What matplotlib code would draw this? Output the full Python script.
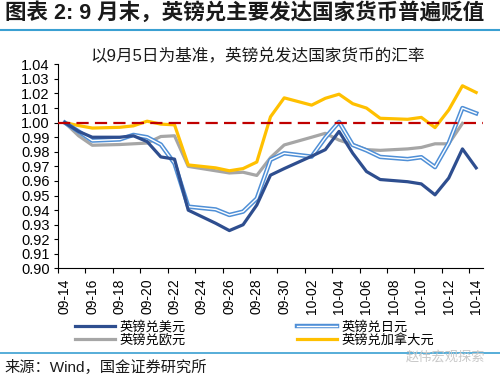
import numpy as np
import pandas as pd
import matplotlib
matplotlib.use("Agg")
import matplotlib.pyplot as plt
import matplotlib.patheffects as pe
from matplotlib.lines import Line2D

plt.rcParams['font.family'] = ['Liberation Sans', 'Noto Sans CJK SC']

# 汇率数据（以首日为 1）
dates = ['09-14', '09-15', '09-16', '09-18', '09-19', '09-20', '09-21', '09-22', '09-23',
         '09-25', '09-26', '09-27', '09-28', '09-29', '09-30', '10-02', '10-03', '10-04',
         '10-05', '10-06', '10-07', '10-09', '10-10', '10-11', '10-12', '10-13', '10-14']
usd = [1.000, 0.994, 0.990, 0.990, 0.991, 0.987, 0.9765, 0.975, 0.940, 0.931, 0.926, 0.930,
       0.9435, 0.964, 0.9685, 0.977, 0.9815, 0.994, 0.979, 0.9665, 0.961, 0.9595, 0.958,
       0.9505, 0.962, 0.982, 0.969]
jpy = [1.000, 0.994, 0.9877, 0.9885, 0.9916, 0.990, 0.985, 0.972, 0.9424, 0.9405, 0.9367,
       0.939, 0.948, 0.9745, 0.979, 0.9767, 0.9897, 1.0005, 0.9847, 0.981, 0.9765, 0.975,
       0.9763, 0.9695, 0.986, 1.010, 1.0064]
eur = [1.000, 0.991, 0.9845, 0.985, 0.9855, 0.986, 0.9905, 0.991, 0.970, 0.967, 0.9655,
       0.966, 0.9638, 0.976, 0.9847, 0.990, 0.9927, 0.988, 0.985, 0.9815, 0.981, 0.982,
       0.983, 0.9855, 0.9855, 0.9995, np.nan]
cad = [1.000, 0.998, 0.9963, 0.9968, 0.9978, 1.001, 0.999, 0.9985, 0.971, 0.969, 0.967,
       0.9685, 0.973, 1.004, 1.017, 1.012, 1.0167, 1.0195, 1.013, 1.010, 1.003, 1.0023,
       1.0036, 0.9966, 1.0087, 1.0253, 1.0207]

start = pd.Timestamp('2022-09-14')
x = np.array([(pd.Timestamp('2022-' + d) - start).days for d in dates])
label_days = pd.date_range('2022-09-14', '2022-10-14', freq='2D')
tick_labels = label_days.strftime('%m-%d')

fig = plt.figure(figsize=(5, 3.81), dpi=100)
ax = fig.add_axes([0.116, 0.2953, 0.85, 0.5359])

c_usd = '#2E4E8F'
c_jpy = '#4F8FD6'
c_eur = '#A6A6A6'
c_cad = '#FFC000'

ax.plot(x, eur, color=c_eur, lw=2.3, zorder=2)
ax.plot(x, cad, color=c_cad, lw=2.3, zorder=3)
jpy_fx = [pe.Stroke(linewidth=3.2, foreground=c_jpy), pe.Normal()]
ax.plot(x, jpy, color='white', lw=1.0, zorder=4, path_effects=jpy_fx)
ax.plot(x, usd, color=c_usd, lw=2.3, zorder=5)
ax.axhline(1.0, color='#C00000', lw=1.6, linestyle=(0, (5.5, 2.8)), zorder=6)

ax.set_xlim(-0.5, 30.5)
ax.set_ylim(0.90, 1.04)
ax.set_yticks(np.arange(0.90, 1.0401, 0.01))
ax.set_yticklabels(['%.2f' % v for v in np.arange(0.90, 1.0401, 0.01)], fontsize=10.5)
ax.set_xticks(np.arange(-0.5, 30, 2))
ax.set_xticklabels([])
ax.set_xticks(np.arange(0, 31, 2), minor=True)
ax.set_xticklabels(tick_labels, minor=True, rotation=90, fontsize=10)
ax.tick_params(axis='x', which='minor', length=0, pad=7)
ax.tick_params(axis='x', which='major', length=3.5, direction='out', width=0.8)
ax.tick_params(axis='y', length=3, direction='out', width=0.8, pad=3)
for s in ['top', 'right']:
    ax.spines[s].set_visible(False)
for s in ['left', 'bottom']:
    ax.spines[s].set_linewidth(0.8)

# 图例
handles = [Line2D([], [], color=c_usd, lw=2.3),
           Line2D([], [], color=c_eur, lw=2.3),
           Line2D([], [], color='white', lw=1.0, path_effects=jpy_fx),
           Line2D([], [], color=c_cad, lw=2.3)]
labels = ['英镑兑美元', '英镑兑欧元', '英镑兑日元', '英镑兑加拿大元']
fig.legend(handles, labels, loc='upper left', bbox_to_anchor=(0.15, 0.158), ncol=2,
           frameon=False, fontsize=9.5, handlelength=3.0, handletextpad=0.4,
           columnspacing=8.4, labelspacing=0.0, borderaxespad=0, borderpad=0)

# 标题和来源
fig.text(0.01, 0.967, '图表 2: 9 月末，英镑兑主要发达国家货币普遍贬值', fontsize=15.5,
         fontweight='bold', color='#1a1a1a', va='center', ha='left')
fig.add_artist(Line2D([0, 1], [0.921, 0.921], color='#3AA0D2', lw=1.5))
fig.text(0.516, 0.853, '以9月5日为基准，英镑兑发达国家货币的汇率', fontsize=12,
         color='#1a1a1a', va='center', ha='center')
fig.add_artist(Line2D([0, 1], [0.0743, 0.0743], color='#3AA0D2', lw=1.2))
fig.text(0.008, 0.035, '来源：Wind，国金证券研究所', fontsize=11, color='#1a1a1a',
         va='center', ha='left')
fig.text(0.97, 0.063, '赵伟宏观探索', fontsize=9.5, color='#c8c8c8', va='center', ha='right')

fig.savefig('out.png', dpi=100)
